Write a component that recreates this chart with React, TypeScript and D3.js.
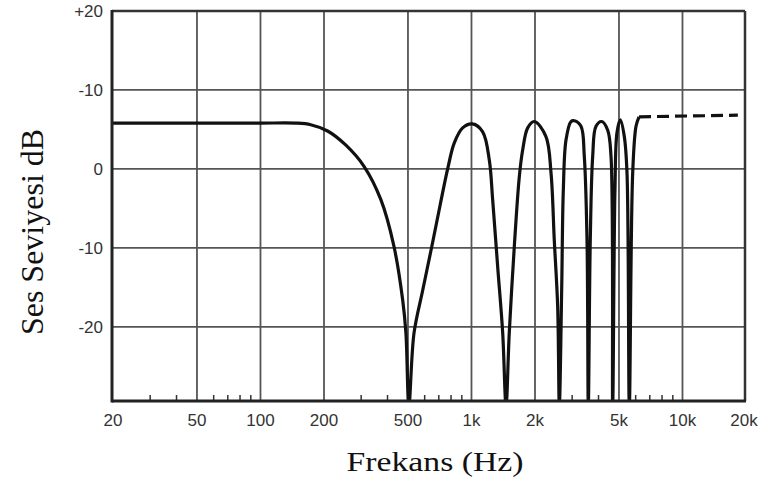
import React from 'react';
import * as d3 from 'd3';

// comb-filter response (Hz, dB)
const curveFreq = [
  20, 60, 100, 147, 173, 208, 254, 310, 372, 429, 472, 489, 505,
  534, 587, 650, 710, 771, 829, 908, 1010, 1130, 1215, 1260, 1331, 1406, 1458,
  1510, 1596, 1685, 1748, 1847, 1985, 2254, 2382, 2468, 2561, 2608,
  2676, 2724, 2806, 2962, 3072, 3304, 3425, 3528, 3578,
  3656, 3754, 3891, 4140, 4422, 4584, 4668,
  4786, 4894, 5074, 5300, 5458, 5598,
  5808, 6022, 6224,
];
const curveDb = [
  5.8, 5.8, 5.8, 5.8, 5.6, 4.8, 3.0, 0.3, -3.9, -9.8, -16.6, -20.8, -30,
  -20.8, -15.4, -9.7, -4.6, 0.0, 3.3, 5.2, 5.7, 4.7, 1.1, -3.9, -12.4, -20.8, -30,
  -20.8, -9.8, -1.0, 2.4, 5.2, 6.0, 4.1, -0.5, -9.0, -17.4, -30,
  -15.3, -2.7, 3.7, 6.0, 6.1, 5.4, 1.6, -9.0, -30,
  -9.0, 1.6, 5.4, 6.0, 4.9, 1.6, -30,
  -2.7, 4.6, 6.2, 4.1, -0.5, -30,
  -0.5, 5.4, 6.6,
];
const dashFreq = [6224, 18300];
const dashDb = [6.6, 6.8];

const yGrid = [10, 0, -10, -20];
const yTicks = [20, 10, 0, -10, -20];
const yTickLabels = ['+20', '-10', '0', '-10', '-20'];
const xGrid = [50, 100, 200, 500, 1000, 2000, 5000, 10000];
const xTicks = [20, 50, 100, 200, 500, 1000, 2000, 5000, 10000, 20000];
const xTickLabels = ['20', '50', '100', '200', '500', '1k', '2k', '5k', '10k', '20k'];
const minorTicks = [30, 40, 60, 70, 80, 90, 300, 400, 600, 700, 800, 900, 3000, 4000, 6000, 7000, 8000, 9000];

const W = 763;
const H = 495;
const left = 112, right = 745, top = 11, bottom = 401;

export default function App() {
  const x = d3.scaleLog().domain([20, 20000]).range([113, 746]);
  const y = d3.scaleLinear().domain([-29.4, 20]).range([bottom, top]);

  const pts: [number, number][] = curveFreq.map((f, i) => [f, curveDb[i]]);
  const dash: [number, number][] = dashFreq.map((f, i) => [f, dashDb[i]]);
  const line = d3.line<[number, number]>()
    .x(d => x(d[0]))
    .y(d => y(d[1]))
    .curve(d3.curveCatmullRom.alpha(0.5));

  const grid = '#555';
  const tickFont = '"Liberation Sans", Arial, sans-serif';

  return (
    <svg width={W} height={H} style={{ position: 'absolute', left: 0, top: 0, background: '#fff' }}>
      <defs>
        <clipPath id="plot">
          <rect x={left} y={top} width={right - left} height={bottom - top} />
        </clipPath>
      </defs>

      {/* grid */}
      {yGrid.map(v => (
        <line key={'h' + v} x1={left} x2={right} y1={y(v)} y2={y(v)} stroke={grid} strokeWidth={1.8} />
      ))}
      {xGrid.map(v => (
        <line key={'v' + v} x1={x(v)} x2={x(v)} y1={top} y2={bottom} stroke={grid} strokeWidth={1.8} />
      ))}

      {/* minor ticks on the bottom edge */}
      {minorTicks.map(v => (
        <line key={'m' + v} x1={x(v)} x2={x(v)} y1={bottom} y2={bottom - 6} stroke="#333" strokeWidth={1.5} />
      ))}

      {/* curve */}
      <g clipPath="url(#plot)">
        <path d={line(pts) || ''} fill="none" stroke="#111" strokeWidth={3.2} strokeLinejoin="round" />
      </g>
      <path d={line(dash) || ''} fill="none" stroke="#111" strokeWidth={3.2} strokeDasharray="12,6" />

      {/* frame */}
      <line x1={left} x2={right} y1={top} y2={top} stroke="#333" strokeWidth={2.5} />
      <line x1={right} x2={right} y1={top} y2={bottom} stroke="#333" strokeWidth={2.5} />
      <line x1={left} x2={left} y1={top - 1} y2={bottom + 1.5} stroke="#222" strokeWidth={3} />
      <line x1={left} x2={right + 1} y1={bottom} y2={bottom} stroke="#222" strokeWidth={3} />

      {/* y tick labels */}
      {yTicks.map((v, i) => (
        <text key={'yl' + v + i} x={103} y={y(v) + 2} textAnchor="end" dominantBaseline="middle"
          fontFamily={tickFont} fontSize={17} fill="#333">{yTickLabels[i]}</text>
      ))}

      {/* x tick labels */}
      {xTicks.map((v, i) => (
        <text key={'xl' + v} x={i === xTicks.length - 1 ? 744 : x(v)} y={426} textAnchor="middle"
          fontFamily={tickFont} fontSize={17} fill="#333">{xTickLabels[i]}</text>
      ))}

      {/* axis titles */}
      <text x={435} y={471} textAnchor="middle" fontFamily='"Liberation Serif", "Times New Roman", serif'
        fontSize={28} fill="#111" textLength={177} lengthAdjust="spacingAndGlyphs">Frekans (Hz)</text>
      <text transform="translate(43,232) rotate(-90)" textAnchor="middle"
        fontFamily='"Liberation Serif", "Times New Roman", serif' fontSize={32} fill="#111">Ses Seviyesi dB</text>
    </svg>
  );
}
